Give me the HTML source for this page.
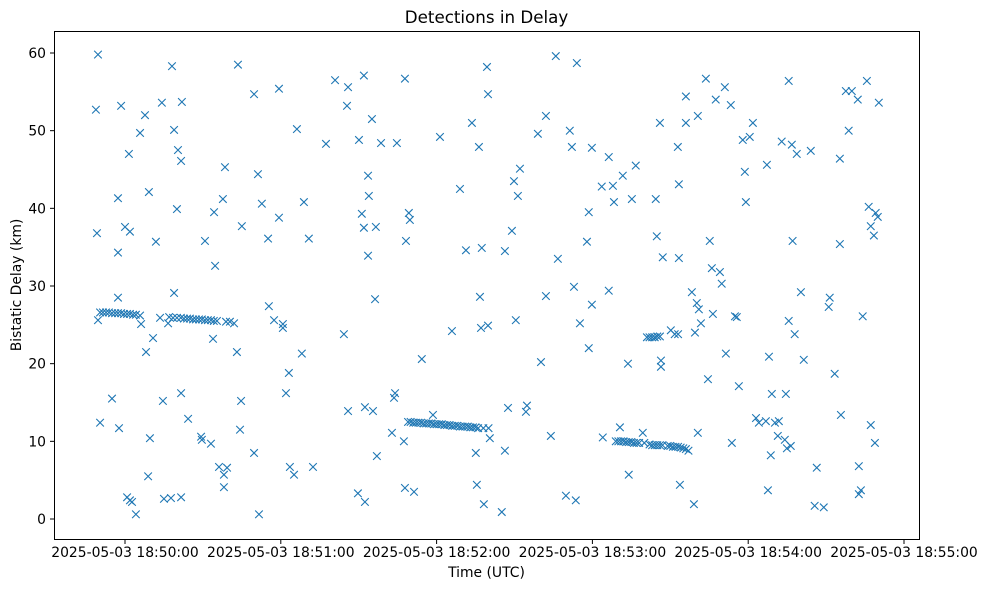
<!DOCTYPE html>
<html><head><meta charset="utf-8"><style>
body{margin:0;background:#fff;}
svg{display:block;font-family:"DejaVu Sans","Liberation Sans",sans-serif;}
</style></head><body>
<svg id="chart" width="988" height="590" viewBox="0 0 988 590">
<rect x="0" y="0" width="988" height="590" fill="#fff"/>
<text x="486.5" y="23" font-size="16.7" text-anchor="middle">Detections in Delay</text>
<g id="marks"></g>
<rect x="54.5" y="31.5" width="865" height="508" fill="none" stroke="#000" stroke-width="1"/>
<g id="xticks"></g>
<g id="yticks"></g>
<text x="486.5" y="577" font-size="13.9" text-anchor="middle">Time (UTC)</text>
<text transform="translate(21,285) rotate(-90)" font-size="13.9" text-anchor="middle">Bistatic Delay (km)</text>
</svg>
<script>
// seconds after 2025-05-03 18:50:00 UTC, bistatic delay (km)
const secs = [-11.2,-10.4,-10.8,-10.4,-9.6,-5.0,-2.7,-2.7,-2.3,-2.7,-1.5,0,0.8,1.5,1.9,1.9,2.7,4.2,5.8,6.2,7.7,8.1,8.9,9.2,9.6,10.8,11.9,13.5,14.2,14.6,15.0,16.6,17.7,18.1,18.9,18.9,20.0,20.4,21.6,21.6,21.6,21.9,24.3,29.3,29.6,30.8,33.1,33.9,34.3,34.7,36.2,37.7,38.1,38.1,38.5,39.3,38.9,40.4,42.0,43.1,44.3,44.7,43.5,45.0,49.7,49.7,51.2,51.6,52.7,55.1,55.4,57.4,59.3,59.3,60.8,60.8,62.0,63.1,63.5,65.1,66.2,68.1,68.9,70.8,72.4,77.4,80.9,84.3,85.5,85.9,85.9,90.1,89.7,91.2,92.0,92.0,92.4,92.4,93.6,93.6,93.9,95.1,95.5,96.6,97.0,96.3,98.6,102.8,103.6,104.0,104.7,107.4,107.8,107.8,108.2,109.3,109.7,111.3,114.3,121.3,125.9,129.0,131.3,133.6,135.1,135.5,136.3,136.7,137.1,137.4,138.2,139.4,139.8,139.8,140.5,145.1,146.3,146.3,147.5,149.0,149.8,150.5,151.3,152.1,154.4,154.8,160.2,162.1,159.0,162.1,164.0,165.9,166.7,169.8,171.3,172.1,172.9,173.6,174.0,175.2,177.9,178.6,179.8,178.6,179.8,183.6,186.3,186.3,187.9,188.3,190.6,191.7,193.7,194.0,195.2,196.7,199.4,204.4,204.8,206.0,206.4,207.1,206.4,212.9,213.3,213.3,213.7,216.0,216.0,218.3,219.1,219.5,220.2,221.0,220.6,220.6,221.8,223.7,224.5,225.2,226.0,226.4,227.5,229.1,229.8,231.0,231.4,233.3,233.7,234.9,235.6,236.4,237.9,238.7,239.1,240.6,241.8,243.0,244.1,246.8,247.2,247.6,248.0,248.7,249.1,250.3,251.4,251.8,252.9,254.1,254.5,254.9,255.6,255.6,256.4,256.8,257.1,257.9,258.7,260.3,261.4,264.1,265.6,266.4,269.1,271.0,271.4,273.3,275.3,275.7,275.3,277.6,278.7,279.9,282.2,282.6,282.6,283.4,284.1,285.7,286.4,287.2,287.2,288.4,288.8,289.1,289.9,290.3,
-9.6,-8.5,-7.3,-6.2,-5.0,-3.8,-2.7,-1.5,-0.4,0.8,1.9,3.1,4.2,5.8,
17.0,18.5,20.0,21.5,22.7,23.9,25.0,26.2,27.3,28.5,29.6,30.8,31.9,33.1,34.2,35.4,
109,110,111,112,113,114,115,116,117,118,119,120,121,122,123,124,125,126,127,128,129,130,131,132,133,134,135,136,138,140,118.6,
189,190,191,192,193,194,195,196,197,198,200,202,203,204,205,206,207,209,210,211,212,213,214,215,216,217,184,
201,202,203,204,205,206,210.2,211.7,213];
const delays = [52.7,59.8,36.8,25.6,12.4,15.5,41.3,34.3,11.7,28.5,53.2,37.6,2.8,47.0,37.0,2.4,2.2,0.6,49.7,25.1,52.0,21.5,5.5,42.1,10.4,23.3,35.7,25.9,53.6,15.2,2.6,25.2,2.7,58.3,50.1,29.1,39.9,47.5,2.8,16.2,46.1,53.7,12.9,10.6,10.2,35.8,9.7,23.2,39.5,32.6,6.7,41.2,4.1,5.7,45.3,6.6,25.4,25.4,25.2,21.5,11.5,15.2,58.5,37.7,8.5,54.7,44.4,0.6,40.6,36.1,27.4,25.6,55.4,38.8,24.6,25.1,16.2,18.8,6.7,5.7,50.2,21.3,40.8,36.1,6.7,48.3,56.5,23.8,53.2,55.6,13.9,48.8,3.3,39.3,57.1,37.5,2.2,14.4,44.2,33.9,41.6,51.5,13.9,37.6,8.1,28.3,48.4,11.1,15.6,16.2,48.4,10.0,56.7,4.0,35.8,39.4,38.5,3.5,20.6,49.2,24.2,42.5,34.6,51.0,8.5,4.4,47.9,28.6,24.6,34.9,1.9,58.2,54.7,24.9,10.4,0.9,8.8,34.5,14.3,37.1,43.5,25.6,41.6,45.1,13.8,14.6,20.2,28.7,49.6,51.9,10.7,59.6,33.5,3.0,50.0,47.9,29.9,2.4,58.7,25.2,35.7,39.5,47.8,22.0,27.6,42.8,46.6,29.4,42.9,40.8,11.8,44.2,20.0,5.7,41.2,45.5,11.1,41.2,36.4,51.0,20.4,33.7,19.6,47.9,43.1,33.6,4.4,51.0,54.4,29.2,1.9,24.0,27.8,27.0,11.1,51.9,25.2,56.7,18.0,35.8,32.3,26.4,54.0,31.8,30.3,55.6,21.3,53.3,9.8,26.1,26.0,17.1,48.8,44.7,40.8,49.2,51.0,13.0,12.4,12.6,45.6,3.7,20.9,8.2,16.1,12.4,10.7,12.6,48.6,10.2,16.1,9.1,25.5,56.4,9.4,48.2,35.8,23.8,47.0,29.2,20.5,47.4,1.7,6.6,1.5,27.3,28.5,18.7,35.4,13.4,46.4,55.1,50.0,55.1,54.0,6.8,3.2,3.7,26.1,56.4,40.2,12.1,37.7,36.5,9.8,39.4,38.9,53.6,
26.6,26.6,26.6,26.6,26.5,26.5,26.5,26.5,26.4,26.4,26.4,26.3,26.3,26.2,
26.0,25.9,25.9,25.9,25.8,25.8,25.8,25.7,25.7,25.7,25.7,25.6,25.6,25.6,25.5,25.5,
12.5,12.5,12.4,12.4,12.4,12.4,12.3,12.3,12.3,12.3,12.2,12.2,12.2,12.2,12.1,12.1,12.1,12.0,12.0,12.0,11.9,11.9,11.9,11.9,11.8,11.8,11.8,11.7,11.7,11.7,13.4,
10.0,10.0,10.0,10.0,9.9,9.9,9.9,9.8,9.8,9.8,9.8,9.6,9.5,9.5,9.5,9.5,9.5,9.4,9.4,9.3,9.3,9.3,9.2,9.1,9.0,8.8,10.5,
23.4,23.4,23.4,23.4,23.5,23.5,24.3,23.8,23.8];
const xTickSecs = [0,60,120,180,240,300];
const xTickLabels = ["2025-05-03 18:50:00","2025-05-03 18:51:00","2025-05-03 18:52:00","2025-05-03 18:53:00","2025-05-03 18:54:00","2025-05-03 18:55:00"];
const yTickVals = [0,10,20,30,40,50,60];

const NS="http://www.w3.org/2000/svg";
function xs(s){return 125 + s*155.8/60;}
function ys(k){return 519 - k*(466/60);}
const marks=document.getElementById('marks');
const n=Math.min(secs.length,delays.length);
for(let i=0;i<n;i++){
  const cx=xs(secs[i]), cy=ys(delays[i]), r=3.8;
  const p=document.createElementNS(NS,'path');
  p.setAttribute('d',`M${cx-r},${cy-r}L${cx+r},${cy+r}M${cx-r},${cy+r}L${cx+r},${cy-r}`);
  p.setAttribute('stroke','#1f77b4');
  p.setAttribute('stroke-width','1.1');
  p.setAttribute('fill','none');
  
  
  marks.appendChild(p);
}
const xt=document.getElementById('xticks');
xTickSecs.forEach((s,i)=>{
  const x=xs(s);
  const l=document.createElementNS(NS,'line');
  l.setAttribute('x1',x);l.setAttribute('x2',x);l.setAttribute('y1',539.5);l.setAttribute('y2',544);
  l.setAttribute('stroke','#000');
  
  
  xt.appendChild(l);
  const t=document.createElementNS(NS,'text');
  t.setAttribute('x',x);t.setAttribute('y',557);t.setAttribute('font-size','13.9');t.setAttribute('text-anchor','middle');
  t.textContent=xTickLabels[i];
  
  
  xt.appendChild(t);
});
const yt=document.getElementById('yticks');
yTickVals.forEach(v=>{
  const y=ys(v);
  const l=document.createElementNS(NS,'line');
  l.setAttribute('x1',50);l.setAttribute('x2',54.5);l.setAttribute('y1',y);l.setAttribute('y2',y);
  l.setAttribute('stroke','#000');
  
  
  yt.appendChild(l);
  const t=document.createElementNS(NS,'text');
  t.setAttribute('x',46);t.setAttribute('y',y+5);t.setAttribute('font-size','13.9');t.setAttribute('text-anchor','end');
  t.textContent=String(v);
  
  
  yt.appendChild(t);
});
</script>
</body></html>
